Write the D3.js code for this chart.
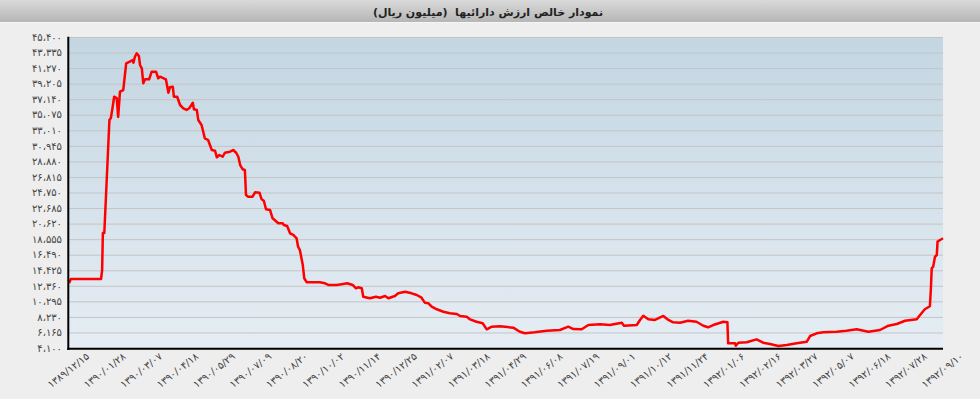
<!DOCTYPE html>
<html><head><meta charset="utf-8">
<script src="https://cdnjs.cloudflare.com/ajax/libs/d3/7.8.5/d3.min.js"></script>
<style>
html,body{margin:0;padding:0;background:#eeeeee;}
svg{display:block;}
text{font-family:"DejaVu Sans",Tahoma,sans-serif;}
</style></head>
<body>
<svg id="chart" width="980" height="399"></svg>
<script>
const chartTitle = "نمودار خالص ارزش دارائیها\u00a0\u00a0(میلیون ریال)";
const dateLabels = ["1389/12/15","1390/01/28","1390/03/07","1390/04/18","1390/05/29","1390/07/09","1390/08/20","1390/10/02","1390/11/14","1390/12/25","1391/02/07","1391/03/18","1391/04/29","1391/06/08","1391/07/19","1391/09/01","1391/10/12","1391/11/24","1392/01/06","1392/02/16","1392/03/27","1392/05/07","1392/06/18","1392/07/28","1392/09/10"];
const yTickValues = [4100,6165,8230,10295,12360,14425,16490,18555,20620,22685,24750,26815,28880,30945,33010,35075,37140,39205,41270,43335,45400];
// trading-day index (10 days between date labels) and net asset value (million rials)
const dayIndex = [0,0.5,8.8,9.1,9.3,9.7,11.1,11.5,12.0,12.4,13.1,13.5,14.0,14.9,15.7,16.7,17.5,17.7,18.1,18.6,19.2,19.5,20.0,20.4,20.9,22.0,22.7,23.9,24.5,25.0,26.6,27.3,27.7,28.5,28.8,29.7,30.5,31.4,32.3,33.0,34.0,34.3,35.1,35.5,36.4,37.3,38.2,39.2,40.1,40.6,41.3,42.2,42.8,44.2,45.1,45.9,46.5,47.0,47.7,48.3,48.6,49.2,50.4,51.1,52.3,52.9,53.5,54.1,55.2,55.9,57.0,57.5,58.7,59.0,59.9,60.7,61.6,62.5,62.9,63.4,64.2,64.6,65.3,68.9,70.3,71.2,73.5,75.3,76.4,77.9,78.8,79.4,80.4,80.8,82.6,84.3,85.4,86.8,87.7,89.5,90.4,92.3,94.1,95.5,96.8,97.7,98.7,99.6,101.0,102.8,104.6,106.5,107.4,109.2,110.1,111.9,113.6,114.7,116.1,118.3,122.0,123.8,125.2,127.9,131.2,134.8,137.1,138.5,140.8,142.6,145.8,148.5,151.8,152.4,155.9,156.8,157.7,159.1,160.9,163.2,164.6,165.9,167.8,170.0,172.3,174.2,175.5,176.9,179.7,180.8,181.0,182.9,183.1,183.8,186.1,188.8,190.6,192.5,194.8,197.1,199.8,202.6,203.5,205.3,207.1,210.8,213.5,216.3,219.5,222.7,225.0,227.3,229.6,232.8,233.7,235.0,236.4,236.7,236.9,237.3,237.8,238.3,238.5,239.2,240];
const navValues = [12690,13260,13260,14460,19370,19370,34380,34640,36140,37470,37300,34780,38140,38360,41910,42120,42350,41990,42780,43240,42880,41680,41240,39250,39780,39780,40790,40790,39920,40130,39780,38000,38720,38800,37470,37470,36370,35930,35710,35930,36670,35800,35710,34380,33710,31950,31720,30390,30300,29420,29730,29500,30030,30170,30390,30030,29500,28400,27830,27740,24420,24190,24190,24780,24730,23850,23660,22520,22430,21320,20870,20660,20660,20430,20300,19330,19110,18670,17550,17110,15120,13360,12820,12820,12690,12470,12470,12600,12690,12470,12030,12160,12030,10910,10700,10910,10780,11000,10700,11000,11360,11580,11360,11140,10780,10120,10040,9580,9240,8920,8710,8610,8350,8260,7910,7590,7380,6580,6930,6980,6800,6260,6050,6180,6400,6490,6930,6620,6580,7150,7250,7150,7460,7060,7150,7820,8390,7910,7820,8350,7820,7510,7460,7720,7590,7060,6850,7150,7590,7510,4720,4720,4400,4800,4860,5250,4800,4630,4370,4500,4720,4940,5690,6050,6180,6260,6400,6580,6260,6490,7060,7290,7720,7910,8480,9240,9640,12240,14680,14900,16220,16450,18220,18440,18670];

const fa = s => String(s).replace(/\d/g, d => "۰۱۲۳۴۵۶۷۸۹"[+d]);
const faNum = v => fa(Math.floor(v/1000)) + "،" + fa(String(v%1000).padStart(3,"0"));

const svg = d3.select("#chart");
const W = 980;
const L = 69, R = 943, T = 37, B = 348;

const defs = svg.append("defs");
const tg = defs.append("linearGradient").attr("id","titleGrad").attr("x1",0).attr("y1",0).attr("x2",0).attr("y2",1);
tg.append("stop").attr("offset","0%").attr("stop-color","#dadada");
tg.append("stop").attr("offset","100%").attr("stop-color","#b6b6b6");
const pg = defs.append("linearGradient").attr("id","plotGrad").attr("x1",0).attr("y1",0).attr("x2",0).attr("y2",1);
pg.append("stop").attr("offset","0%").attr("stop-color","#c3d6e2");
pg.append("stop").attr("offset","100%").attr("stop-color","#e6edf4");

// title bar
svg.append("rect").attr("x",0).attr("y",0).attr("width",W).attr("height",22).attr("fill","url(#titleGrad)");
svg.append("line").attr("x1",0).attr("x2",W).attr("y1",22.5).attr("y2",22.5).attr("stroke","#f6f6f6");
svg.append("text").attr("x",488).attr("y",15.5).attr("text-anchor","middle")
  .attr("font-size","11px").attr("font-weight","bold").attr("fill","#222")
  .attr("direction","rtl").text(chartTitle);

const x = d3.scaleLinear().domain([0, 240]).range([L, R]);
const y = d3.scaleLinear().domain([4100, 45400]).range([B, T]);

svg.append("rect").attr("x",L).attr("y",T).attr("width",R-L).attr("height",B-T).attr("fill","url(#plotGrad)");

// grid + y labels
const yAxis = d3.axisLeft(y).tickValues(yTickValues).tickSize(-(R-L)).tickFormat(faNum).tickPadding(7);
const gy = svg.append("g").attr("transform",`translate(${L},0)`).call(yAxis);
gy.select(".domain").remove();
gy.selectAll(".tick line").attr("stroke","#c4c4c4").attr("stroke-width",1);
gy.selectAll(".tick text").attr("font-size","10px").attr("fill","#444").attr("direction","ltr");

// x axis
const xAxis = d3.axisBottom(x).tickValues(dateLabels.map((d,i)=>i*10)).tickSize(0).tickFormat((d,i)=>fa(dateLabels[i]));
const gx = svg.append("g").attr("transform",`translate(0,${B})`).call(xAxis);
gx.select(".domain").remove();
gx.selectAll(".tick text").attr("font-size","10px").attr("fill","#444")
  .attr("text-anchor","middle").attr("dy",null).attr("y",null)
  .attr("direction","ltr")
  .attr("transform","translate(1,25) rotate(-38)");

// line
const pts = dayIndex.map((t,i)=>[t, navValues[i]]);
svg.append("path").datum(pts).attr("fill","none").attr("stroke","#ff0000").attr("stroke-width",2.5)
  .attr("stroke-linejoin","round")
  .attr("d", d3.line().x(d=>x(d[0])).y(d=>y(d[1])));

// axis lines
svg.append("line").attr("x1",L-0.7).attr("x2",L-0.7).attr("y1",T-0.3).attr("y2",B+2).attr("stroke","#000").attr("stroke-width",2);
svg.append("line").attr("x1",L-1.7).attr("x2",R).attr("y1",B+0.7).attr("y2",B+0.7).attr("stroke","#000").attr("stroke-width",2);
</script>
</body></html>
